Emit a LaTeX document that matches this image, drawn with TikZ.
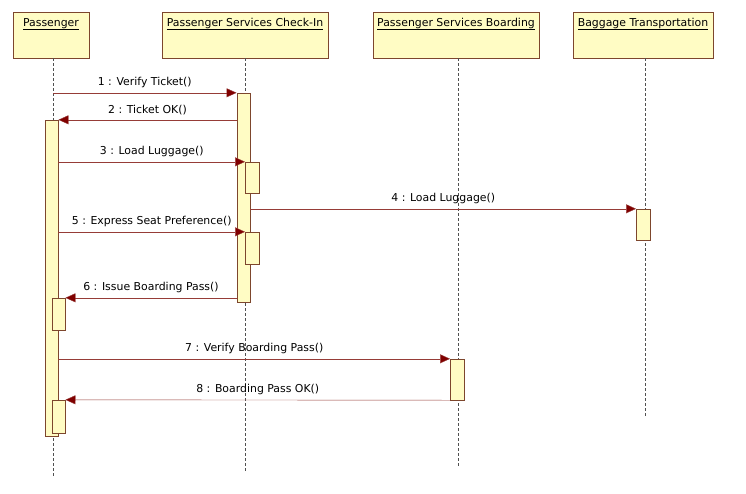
\documentclass[tikz,border=0pt]{standalone}
\usepackage{fontspec}
\setmainfont{DejaVu Sans}
\usepackage{tikz}
\usetikzlibrary{positioning, arrows.meta, calc}
\definecolor{SeqFill}{RGB}{255,252,196}
\definecolor{SeqEdge}{RGB}{125,70,45}
\definecolor{SeqRed}{RGB}{128,0,0}
\definecolor{SeqLine}{RGB}{150,60,55}
\definecolor{SeqDash}{RGB}{80,80,80}

\begin{document}
\begin{tikzpicture}[x=1pt, y=-1pt,
          head/.style={rectangle, draw=SeqEdge, fill=SeqFill, semithick,
                       minimum height=46pt, inner ysep=5pt, text height=9pt,
                       text depth=27pt, font=\fontsize{10.9}{12}\selectfont},
          act/.style={rectangle, draw=SeqEdge, fill=SeqFill, thin,
                      minimum width=13.5pt, inner sep=0pt},
          life/.style={SeqDash, thin, dash pattern=on 2.5pt off 2.5pt},
          msg/.style={SeqLine, thin, -{Triangle[length=10pt, width=9pt, fill=SeqRed]}},
          lbl/.style={font=\fontsize{10.9}{12}\selectfont, black, above=1.5pt, midway}
        ]
        \useasboundingbox (0,0) rectangle (746,493);

        % Lifeline heads
        \node[head, minimum width=76pt] (pas) at (51, 35) {\underline{Passenger}};
        \node[head, minimum width=166pt] (chk) at (245, 35)
              {\underline{Passenger Services Check-In}};
        \node[head, minimum width=166pt] (brd) at (456, 35)
              {\underline{Passenger Services Boarding}};
        \node[head, minimum width=140pt] (bag) at (643, 35)
              {\underline{Baggage Transportation}};

        % Lifelines
        \coordinate (pasend) at (53, 477);
        \coordinate (chkend) at (245, 473);
        \coordinate (brdend) at (458, 467);
        \coordinate (bagend) at (645, 417);
        \draw[life] (pas.south -| pasend) -- (pasend);
        \draw[life] (chk.south) -- (chkend);
        \draw[life] (brd.south -| brdend) -- (brdend);
        \draw[life] (bag.south -| bagend) -- (bagend);

        % Activations
        \node[act, minimum height=209pt] (chkA) at (243.5, 197.5) {};
        \node[act, minimum height=316pt] (pasA) at (51.5, 278) {};
        \node[act, minimum height=31pt] (chk3) at (252, 177.5) {};
        \node[act, minimum height=32pt] (chk5) at (252, 248) {};
        \node[act, minimum height=31pt] (bag4) at (643, 224.5) {};
        \node[act, minimum height=32pt] (pas6) at (58.5, 314) {};
        \node[act, minimum height=41pt] (brd7) at (457, 379.5) {};
        \node[act, minimum height=33pt] (pas8) at (58.5, 416.5) {};

        % Messages
        \coordinate (m1) at (pasend |- chkA.north);
        \draw[msg] (m1) -- node[lbl]{1 : Verify Ticket()} (chkA.north west);
        \draw[msg] (chkA.west |- pasA.north) --
              node[lbl]{2 : Ticket OK()} (pasA.north east);
        \draw[msg] (pasA.east |- chk3.north) --
              node[lbl]{3 : Load Luggage()} (chk3.north west);
        \draw[msg] (chkA.east |- bag4.north) --
              node[lbl]{4 : Load Luggage()} (bag4.north west);
        \draw[msg] (pasA.east |- chk5.north) --
              node[lbl]{5 : Express Seat Preference()} (chk5.north west);
        \draw[msg] (chkA.west |- pas6.north) --
              node[lbl]{6 : Issue Boarding Pass()} (pas6.north east);
        \draw[msg] (pasA.east |- brd7.north) --
              node[lbl]{7 : Verify Boarding Pass()} (brd7.north west);
        \draw[msg] (brd7.south west) --
              node[lbl]{8 : Boarding Pass OK()} (pas8.north east);
      \end{tikzpicture}
\end{document}
